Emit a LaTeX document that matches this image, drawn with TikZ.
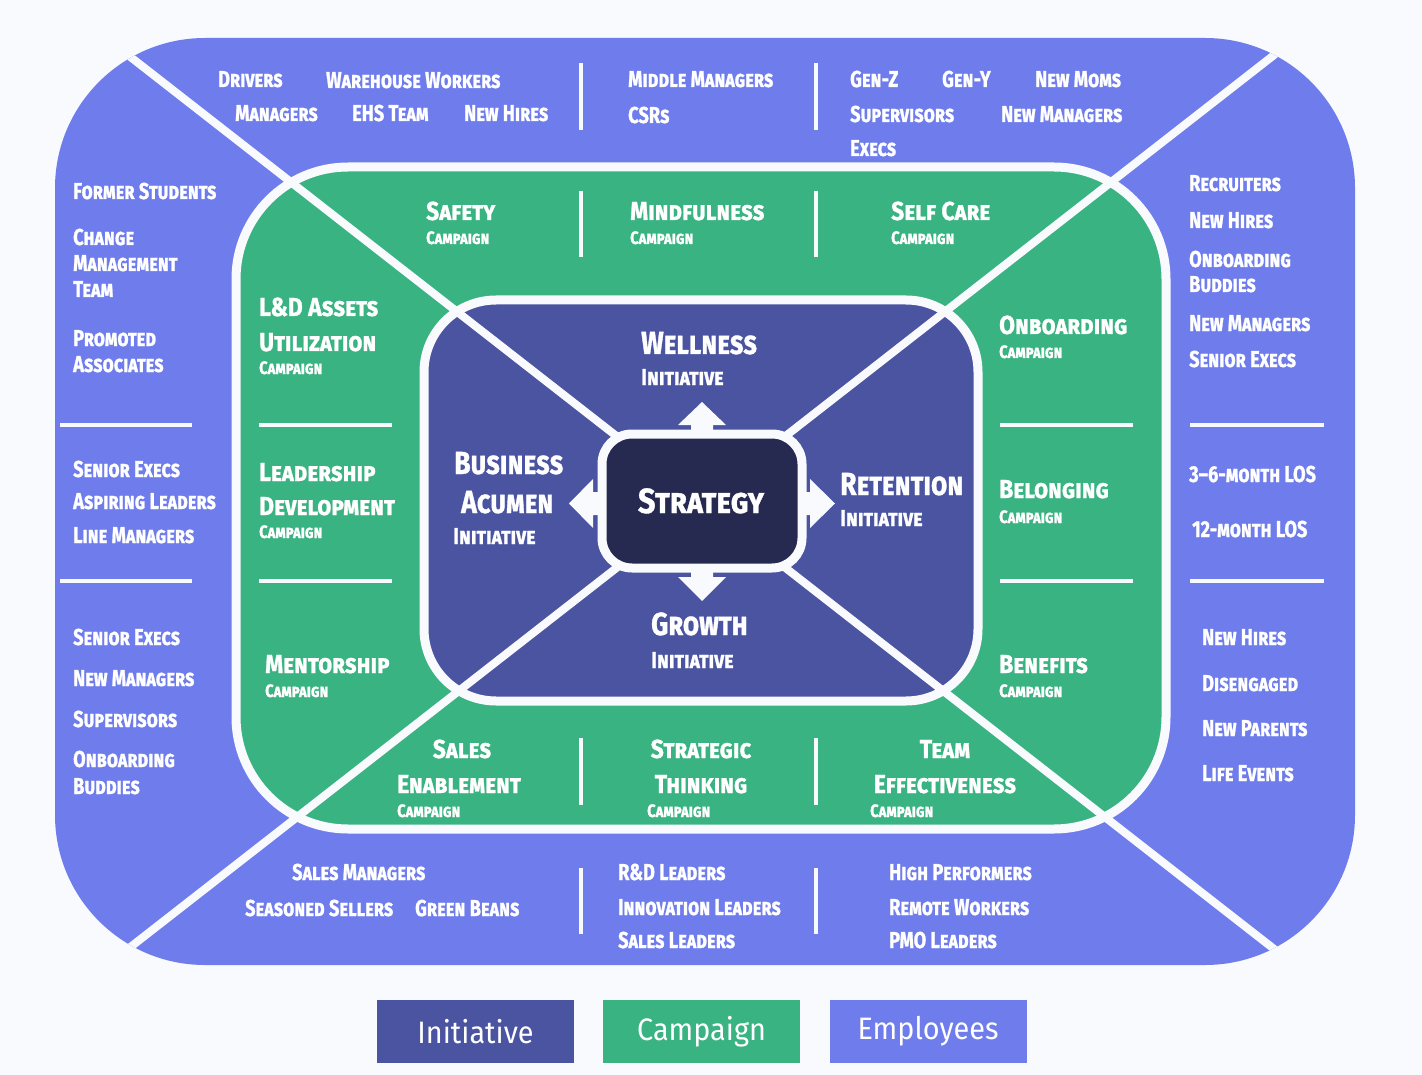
\documentclass[tikz,border=0pt]{standalone}
\usepackage{fontspec}
\newfontfamily\fempf{Fira Sans}[FakeStretch=0.79, FakeBold=1, Letters=SmallCaps]
\newfontfamily\fctf{Fira Sans}[FakeStretch=0.88, FakeBold=1, Letters=SmallCaps]
\newfontfamily\fcsf{Fira Sans}[FakeStretch=0.82, FakeBold=1, Letters=SmallCaps]
\newfontfamily\fitf{Fira Sans}[FakeStretch=0.83, FakeBold=1, Letters=SmallCaps]
\newfontfamily\fisf{Fira Sans}[FakeStretch=0.86, FakeBold=1, Letters=SmallCaps]
\newfontfamily\fstf{Fira Sans}[FakeStretch=0.88, FakeBold=1, Letters=SmallCaps]
\newfontfamily\legfont{Fira Sans}[FakeStretch=0.93]
\definecolor{bgc}{HTML}{F9FAFE}
\definecolor{empc}{HTML}{6F7DEC}
\definecolor{campc}{HTML}{3AB382}
\definecolor{initc}{HTML}{4A54A0}
\definecolor{stratc}{HTML}{272A50}
\tikzset{
  lab/.style={text=white, inner sep=0pt, anchor=base west},
  emp/.style={lab, font=\fempf\bfseries\fontsize{23}{23}\selectfont},
  ct/.style={lab, font=\fctf\bfseries\fontsize{26}{26}\selectfont},
  cs/.style={lab, font=\fcsf\bfseries\fontsize{18}{18}\selectfont},
  it/.style={lab, font=\fitf\bfseries\fontsize{32}{32}\selectfont},
  is/.style={lab, font=\fisf\bfseries\fontsize{23}{23}\selectfont},
  sep/.style={draw=bgc, line width=4pt},
  legbox/.style={minimum width=197pt, minimum height=63pt, inner sep=0pt, text=white, font=\legfont\fontsize{31}{31}\selectfont},
}
\begin{document}
\begin{tikzpicture}[x=1pt,y=-1pt]
\fill[bgc] (0,0) rectangle (1422,1075);
\useasboundingbox (0,0) rectangle (1422,1075);
% outer employees shape
\fill[empc, rounded corners=150pt] (55,38) rectangle (1355,965);
% campaign ring
\filldraw[fill=campc, draw=bgc, line width=9pt, rounded corners=112pt] (236,167) rectangle (1166,829);
% initiative
\filldraw[fill=initc, draw=bgc, line width=9pt, rounded corners=72pt] (424,300) rectangle (978,701);
% diagonals
\begin{scope}
\clip[rounded corners=150pt] (55,38) rectangle (1355,965);
\coordinate (ctr) at (701,502);
\coordinate (dTL) at (1,-44);
\coordinate (dTR) at (1401,-44);
\coordinate (dBL) at (1,1048);
\coordinate (dBR) at (1401,1048);
\draw[bgc, line width=8pt] (ctr) -- (dTL);
\draw[bgc, line width=8pt] (ctr) -- (dTR);
\draw[bgc, line width=8pt] (ctr) -- (dBL);
\draw[bgc, line width=8pt] (ctr) -- (dBR);
\end{scope}
% strategy box
\filldraw[fill=stratc, draw=bgc, line width=9pt, rounded corners=30pt] (602,434) rectangle (802,568);
% arrows
\fill[bgc] (691,434)--(691,425)--(678,425)--(702,402)--(726,425)--(713,425)--(713,434)--cycle;
\fill[bgc] (691,568)--(691,577)--(678,577)--(702,601)--(726,577)--(713,577)--(713,568)--cycle;
\fill[bgc] (602,492)--(593,492)--(593,479)--(569,503.5)--(593,528)--(593,515)--(602,515)--cycle;
\fill[bgc] (802,492)--(810,492)--(810,479)--(835,503.5)--(810,528)--(810,515)--(802,515)--cycle;
% separators
\foreach \x in {581,816}{
  \draw[sep] (\x,63) -- (\x,130);
  \draw[sep] (\x,191) -- (\x,257);
  \draw[sep] (\x,738) -- (\x,805);
  \draw[sep] (\x,868) -- (\x,934);
}
\foreach \y in {425,581}{
  \draw[sep] (60,\y) -- (192,\y);
  \draw[sep] (259,\y) -- (392,\y);
  \draw[sep] (1000,\y) -- (1133,\y);
  \draw[sep] (1190,\y) -- (1324,\y);
}
% strategy
\node[text=white, inner sep=0pt, anchor=base, font=\fstf\bfseries\fontsize{35}{35}\selectfont] (strategy) at (701,513) {Strategy};
% initiatives
\node[it] (well) at (641,354) {Wellness};
\node[is] (wellI) at (641,385) {Initiative};
\node[it] (bus1) at (454,474) {Business};
\node[it] (bus2) at (461,513) {Acumen};
\node[is] (busI) at (453,544) {Initiative};
\node[it] (ret) at (840,495) {Retention};
\node[is] (retI) at (840,526) {Initiative};
\node[it] (gro) at (651,635) {Growth};
\node[is] (groI) at (651,668) {Initiative};
% campaigns top
\node[ct] (saf) at (426,220) {Safety};
\node[cs] (safC) at (426,244) {Campaign};
\node[ct] (mind) at (630,220) {Mindfulness};
\node[cs] (mindC) at (630,244) {Campaign};
\node[ct] (self) at (891,220) {Self Care};
\node[cs] (selfC) at (891,244) {Campaign};
% campaigns left
\node[ct] (ld1) at (259,316) {L\&D Assets};
\node[ct] (ld2) at (259,351) {Utilization};
\node[cs] (ldC) at (259,374) {Campaign};
\node[ct] (lead1) at (259,481) {Leadership};
\node[ct] (lead2) at (259,515) {Development};
\node[cs] (leadC) at (259,538) {Campaign};
\node[ct] (ment) at (265,673) {Mentorship};
\node[cs] (mentC) at (265,697) {Campaign};
% campaigns right
\node[ct] (onb) at (999,334) {Onboarding};
\node[cs] (onbC) at (999,358) {Campaign};
\node[ct] (bel) at (999,498) {Belonging};
\node[cs] (belC) at (999,523) {Campaign};
\node[ct] (ben) at (999,673) {Benefits};
\node[cs] (benC) at (999,697) {Campaign};
% campaigns bottom
\node[ct, anchor=base] (sal1) at (462,758) {Sales};
\node[ct, anchor=base] (sal2) at (459,793) {Enablement};
\node[cs] (salC) at (397,817) {Campaign};
\node[ct, anchor=base] (str1) at (701,758) {Strategic};
\node[ct, anchor=base] (str2) at (701,793) {Thinking};
\node[cs] (strC) at (647,817) {Campaign};
\node[ct, anchor=base] (tea1) at (945,758) {Team};
\node[ct, anchor=base] (tea2) at (945,793) {Effectiveness};
\node[cs] (teaC) at (870,817) {Campaign};
% employees top
\node[emp] (e1) at (218,87) {Drivers};
\node[emp] (e2) at (326,88) {Warehouse Workers};
\node[emp] (e3) at (235,121) {Managers};
\node[emp] (e4) at (352,121) {EHS Team};
\node[emp] (e5) at (464,121) {New Hires};
\node[emp] (e6) at (628,87) {Middle Managers};
\node[emp] (e7) at (628,123) {CSRs};
\node[emp] (e8) at (850,87) {Gen-Z};
\node[emp] (e9) at (942,87) {Gen-Y};
\node[emp] (e10) at (1035,87) {New Moms};
\node[emp] (e11) at (850,122) {Supervisors};
\node[emp] (e12) at (1001,122) {New Managers};
\node[emp] (e13) at (850,156) {Execs};
% employees left
\node[emp] (l1) at (73,199) {Former Students};
\node[emp] (l2) at (73,245) {Change};
\node[emp] (l3) at (73,271) {Management};
\node[emp] (l4) at (73,297) {Team};
\node[emp] (l5) at (73,346) {Promoted};
\node[emp] (l6) at (73,372) {Associates};
\node[emp] (l7) at (73,477) {Senior Execs};
\node[emp] (l8) at (73,509) {Aspiring Leaders};
\node[emp] (l9) at (73,543) {Line Managers};
\node[emp] (l10) at (73,645) {Senior Execs};
\node[emp] (l11) at (73,686) {New Managers};
\node[emp] (l12) at (73,727) {Supervisors};
\node[emp] (l13) at (73,767) {Onboarding};
\node[emp] (l14) at (73,794) {Buddies};
% employees right
\node[emp] (r1) at (1189,191) {Recruiters};
\node[emp] (r2) at (1189,228) {New Hires};
\node[emp] (r3) at (1189,267) {Onboarding};
\node[emp] (r4) at (1189,292) {Buddies};
\node[emp] (r5) at (1189,331) {New Managers};
\node[emp] (r6) at (1189,367) {Senior Execs};
\node[emp] (r7) at (1189,482) {3–6-month LOS};
\node[emp] (r8) at (1192,537) {12-month LOS};
\node[emp] (r9) at (1202,645) {New Hires};
\node[emp] (r10) at (1202,691) {Disengaged};
\node[emp] (r11) at (1202,736) {New Parents};
\node[emp] (r12) at (1202,781) {Life Events};
% employees bottom
\node[emp] (b1) at (292,880) {Sales Managers};
\node[emp] (b2) at (245,916) {Seasoned Sellers};
\node[emp] (b3) at (415,916) {Green Beans};
\node[emp] (b4) at (618,880) {R\&D Leaders};
\node[emp] (b5) at (618,915) {Innovation Leaders};
\node[emp] (b6) at (618,948) {Sales Leaders};
\node[emp] (b7) at (889,880) {High Performers};
\node[emp] (b8) at (889,915) {Remote Workers};
\node[emp] (b9) at (889,948) {PMO Leaders};
% legend
\node[legbox, fill=initc] (legI) at (475.5,1031.5) {Initiative};
\node[legbox, fill=campc] (legC) at (701.5,1031.5) {Campaign};
\node[legbox, fill=empc] (legE) at (928,1031.5) {Employees};
\end{tikzpicture}
\end{document}
